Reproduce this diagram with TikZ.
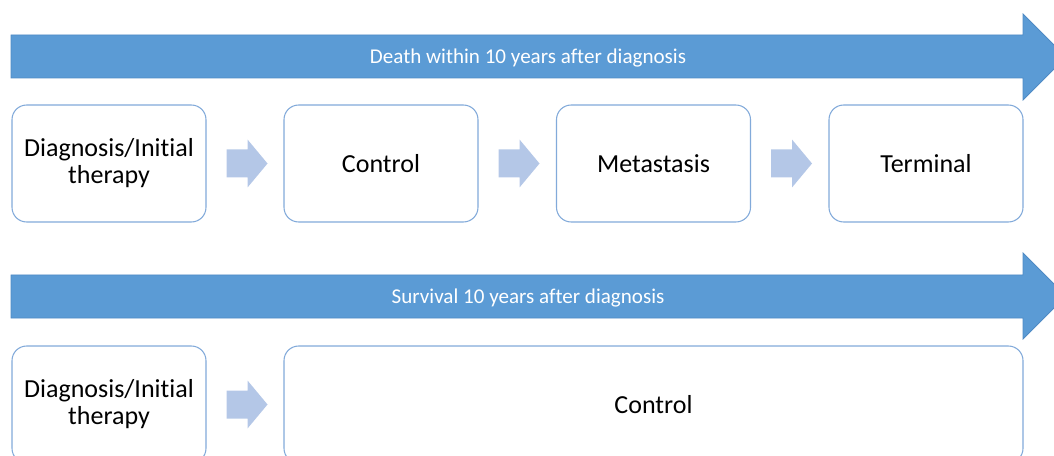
\documentclass[tikz,border=0pt]{standalone}
\usepackage{fontspec}
\setmainfont[Ligatures=NoCommon]{Carlito}
\usepackage{xcolor}
\definecolor{barblue}{HTML}{5B9BD5}
\definecolor{baredge}{HTML}{4F8AC4}
\definecolor{boxedge}{HTML}{82AADA}
\definecolor{stepblue}{HTML}{B4C7E7}
\tikzset{phase/.style={draw=boxedge,line width=0.8pt,rounded corners=11pt,fill=white,inner sep=0pt,minimum width=145.5pt,minimum height=87.75pt,align=center,font=\fontsize{19.5}{20.3}\selectfont}}
\tikzset{bar/.style={fill=barblue,draw=baredge,line width=0.6pt}}
\tikzset{bartext/.style={text=white,font=\fontsize{15.8}{18}\selectfont}}
\tikzset{stepper/.style={fill=stepblue}}

\begin{document}
\begin{tikzpicture}[x=0.75pt,y=-0.75pt]
            \useasboundingbox (0,0) rectangle (1054,456);
            \clip (0,0) rectangle (1054,456);
            % draw the two big arrows
            \draw[bar] (11,35) -- (1023,35) -- (1023,14) -- (1066,57) -- (1023,100) -- (1023,78) -- (11,78) -- cycle;
            \draw[bar] (11,275) -- (1023,275) -- (1023,253) -- (1066,296) -- (1023,339) -- (1023,318) -- (11,318) -- cycle;
            \node[bartext] (death) at (528,58) {Death within 10 years after diagnosis};
            \node[bartext] (survival) at (528,298) {Survival 10 years after diagnosis};

            % draw the phases (top row)
            \node[phase] (d1) at (109,163.5) {Diagnosis/Initial\\therapy};
            \node[phase] (d2) at (381,163.5) {Control};
            \node[phase] (d3) at (653.5,163.5) {Metastasis};
            \node[phase] (d4) at (926,163.5) {Terminal};
            % draw the phases (bottom row)
            \node[phase] (s1) at (109,404.5) {Diagnosis/Initial\\therapy};
            \node[phase,minimum width=554.25pt] (s2) at (653.5,404.5) {Control};

            % draw the small arrows
            \foreach \b in {d1,d2,d3,s1}
                \fill[stepper] (\b.east) ++(20,-14) -- ++(21,0) -- ++(0,-10) -- ++(20,24) -- ++(-20,24) -- ++(0,-10) -- ++(-21,0) -- cycle;
        \end{tikzpicture}
\end{document}
